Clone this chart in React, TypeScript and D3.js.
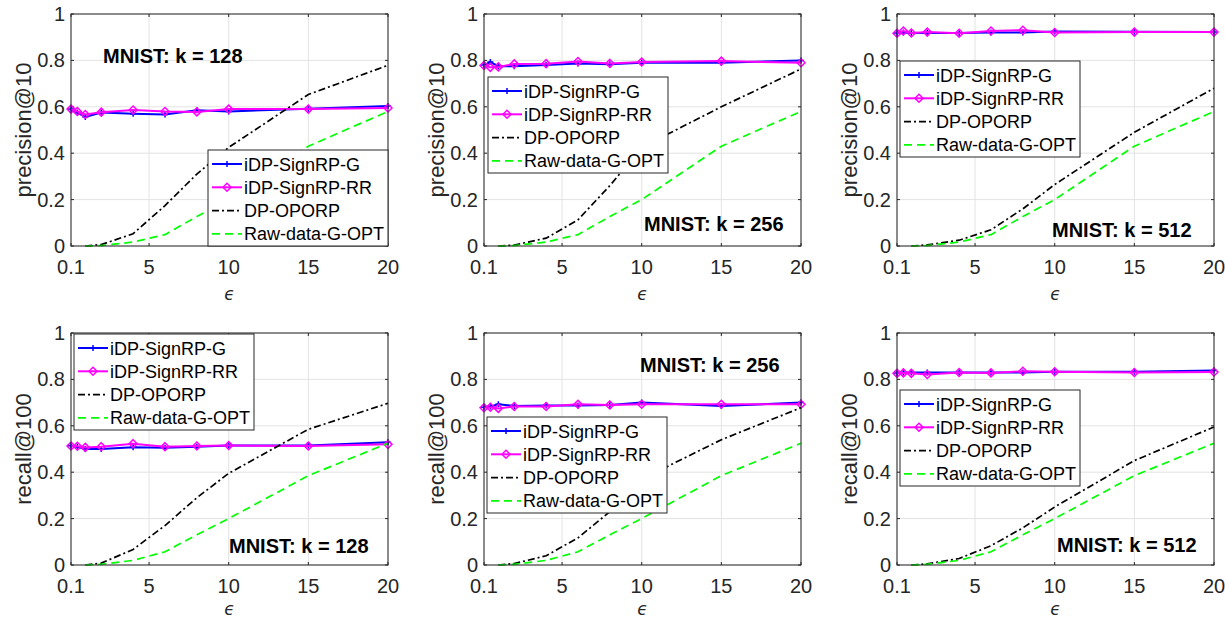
import React from "react";
import * as d3 from "d3";

// ---------- data ----------
const epsSign = [0.1, 0.5, 1, 2, 4, 6, 8, 10, 15, 20];
const epsBase = [1, 2, 4, 6, 8, 10, 15, 20];
const xTicks = [0.1, 5, 10, 15, 20];
const xTickLabels = ["0.1", "5", "10", "15", "20"];
const yTicks = [0, 0.2, 0.4, 0.6, 0.8, 1];
const yTickLabels = ["0", "0.2", "0.4", "0.6", "0.8", "1"];
const seriesNames = ["iDP-SignRP-G", "iDP-SignRP-RR", "DP-OPORP", "Raw-data-G-OPT"];

// precision@10
const precG128 = [0.59, 0.575, 0.556, 0.575, 0.57, 0.567, 0.585, 0.58, 0.592, 0.603];
const precRR128 = [0.59, 0.58, 0.567, 0.577, 0.586, 0.58, 0.578, 0.59, 0.59, 0.595];
const precDP128 = [0, 0.006, 0.053, 0.174, 0.31, 0.425, 0.653, 0.779];
const precG256 = [0.78, 0.793, 0.775, 0.775, 0.78, 0.787, 0.783, 0.79, 0.79, 0.8];
const precRR256 = [0.778, 0.77, 0.772, 0.785, 0.786, 0.795, 0.787, 0.793, 0.797, 0.79];
const precDP256 = [0, 0.004, 0.034, 0.113, 0.26, 0.425, 0.6, 0.763];
const precG512 = [0.918, 0.92, 0.918, 0.918, 0.918, 0.92, 0.92, 0.925, 0.923, 0.922];
const precRR512 = [0.917, 0.927, 0.918, 0.922, 0.917, 0.927, 0.93, 0.92, 0.922, 0.922];
const precDP512 = [0, 0.005, 0.025, 0.07, 0.16, 0.265, 0.49, 0.68];
const precRaw = [0, 0.002, 0.017, 0.049, 0.127, 0.2, 0.43, 0.58];

// recall@100
const recG128 = [0.514, 0.51, 0.5, 0.5, 0.508, 0.505, 0.51, 0.515, 0.515, 0.529];
const recRR128 = [0.513, 0.512, 0.507, 0.51, 0.523, 0.51, 0.513, 0.515, 0.513, 0.52];
const recDP128 = [0, 0.008, 0.067, 0.17, 0.29, 0.395, 0.585, 0.697];
const recG256 = [0.68, 0.683, 0.693, 0.685, 0.688, 0.687, 0.69, 0.7, 0.685, 0.7];
const recRR256 = [0.678, 0.68, 0.675, 0.683, 0.683, 0.693, 0.69, 0.693, 0.693, 0.693];
const recDP256 = [0, 0.006, 0.04, 0.117, 0.23, 0.37, 0.54, 0.678];
const recG512 = [0.828, 0.83, 0.83, 0.83, 0.83, 0.83, 0.83, 0.833, 0.833, 0.838];
const recRR512 = [0.826, 0.828, 0.826, 0.821, 0.83, 0.828, 0.835, 0.833, 0.83, 0.832];
const recDP512 = [0, 0.005, 0.028, 0.083, 0.16, 0.25, 0.45, 0.595];
const recRaw = [0, 0.003, 0.02, 0.057, 0.13, 0.2, 0.385, 0.525];

const yLabels = ["precision@10", "recall@100"];
const kLabels = ["MNIST: k = 128", "MNIST: k = 256", "MNIST: k = 512"];

// ---------- layout ----------
const FONT = "'Liberation Sans', Arial, Helvetica, sans-serif";
const colLeft = [71, 484, 897];
const rowTop = [14, 333];
const PW = 317;
const PH = 232;
const COLORS = ["#0000ff", "#ff00ff", "#000000", "#00ff00"];

type Panel = {
  col: number;
  row: number;
  g: number[];
  rr: number[];
  dp: number[];
  raw: number[];
  label: string;
  ann: [number, number];
  leg: [number, number];
};

const panels: Panel[] = [
  { col: 0, row: 0, g: precG128, rr: precRR128, dp: precDP128, raw: precRaw, label: kLabels[0], ann: [32, 49], leg: [137, 136] },
  { col: 1, row: 0, g: precG256, rr: precRR256, dp: precDP256, raw: precRaw, label: kLabels[1], ann: [160, 217], leg: [4, 63] },
  { col: 2, row: 0, g: precG512, rr: precRR512, dp: precDP512, raw: precRaw, label: kLabels[2], ann: [155, 223], leg: [3, 47] },
  { col: 0, row: 1, g: recG128, rr: recRR128, dp: recDP128, raw: recRaw, label: kLabels[0], ann: [158, 220], leg: [3, 1] },
  { col: 1, row: 1, g: recG256, rr: recRR256, dp: recDP256, raw: recRaw, label: kLabels[1], ann: [156, 39], leg: [3, 84] },
  { col: 2, row: 1, g: recG512, rr: recRR512, dp: recDP512, raw: recRaw, label: kLabels[2], ann: [160, 219], leg: [3, 57] },
];

const diamond = (cx: number, cy: number, r: number) =>
  `M${cx},${cy - r}L${cx + r},${cy}L${cx},${cy + r}L${cx - r},${cy}Z`;
const plus = (cx: number, cy: number, r: number) =>
  `M${cx - r},${cy}L${cx + r},${cy}M${cx},${cy - r}L${cx},${cy + r}`;

function Legend({ x, y }: { x: number; y: number }) {
  const w = 180;
  const h = 96;
  const rowH = 23.3;
  return (
    <g transform={`translate(${x},${y})`}>
      <rect x={0} y={0} width={w} height={h} fill="#fff" stroke="#262626" strokeWidth={1} />
      {seriesNames.map((n, i) => {
        const cy = 14 + i * rowH;
        const dash = i === 2 ? "7,3,2,3" : i === 3 ? "8,5" : undefined;
        return (
          <g key={n}>
            <line x1={4} x2={34} y1={cy} y2={cy} stroke={COLORS[i]} strokeWidth={i < 2 ? 2 : 1.7} strokeDasharray={dash} />
            {i === 0 && <path d={plus(19, cy, 3)} stroke={COLORS[0]} strokeWidth={1.5} />}
            {i === 1 && <path d={diamond(19, cy, 4)} stroke={COLORS[1]} strokeWidth={1.5} fill="none" />}
            <text x={36} y={cy + 6.5} fontSize={18} fontFamily={FONT} fill="#000">
              {n}
            </text>
          </g>
        );
      })}
    </g>
  );
}

function PanelView({ p }: { p: Panel }) {
  const left = colLeft[p.col];
  const top = rowTop[p.row];
  const x = d3.scaleLinear().domain([0.1, 20]).range([0, PW]);
  const y = d3.scaleLinear().domain([0, 1]).range([PH, 0]);
  const line = d3
    .line<[number, number]>()
    .x((d) => x(d[0]))
    .y((d) => y(d[1]));
  const pts = (xs: number[], ys: number[]) => xs.map((v, i) => [v, ys[i]] as [number, number]);
  const gPts = pts(epsSign, p.g);
  const rrPts = pts(epsSign, p.rr);
  const dpPts = pts(epsBase, p.dp);
  const rawPts = pts(epsBase, p.raw);
  const axisColor = "#262626";
  const tickLen = 3;
  const epsY = p.row === 0 ? PH + 54 : PH + 50;
  return (
    <g transform={`translate(${left},${top})`}>
      <rect x={0} y={0} width={PW} height={PH} fill="#fff" />
      {/* grid */}
      {xTicks.map((t) => (
        <line key={"gx" + t} x1={x(t)} x2={x(t)} y1={0} y2={PH} stroke="#e3e3e3" strokeWidth={1} />
      ))}
      {yTicks.map((t) => (
        <line key={"gy" + t} x1={0} x2={PW} y1={y(t)} y2={y(t)} stroke="#e3e3e3" strokeWidth={1} />
      ))}
      {/* ticks */}
      {xTicks.map((t) => (
        <g key={"tx" + t}>
          <line x1={x(t)} x2={x(t)} y1={PH} y2={PH - tickLen} stroke={axisColor} />
          <line x1={x(t)} x2={x(t)} y1={0} y2={tickLen} stroke={axisColor} />
        </g>
      ))}
      {yTicks.map((t) => (
        <g key={"ty" + t}>
          <line x1={0} x2={tickLen} y1={y(t)} y2={y(t)} stroke={axisColor} />
          <line x1={PW} x2={PW - tickLen} y1={y(t)} y2={y(t)} stroke={axisColor} />
        </g>
      ))}
      {/* series */}
      <path d={line(gPts) || ""} fill="none" stroke={COLORS[0]} strokeWidth={2} />
      {gPts.map((d, i) => (
        <path key={"gm" + i} d={plus(x(d[0]), y(d[1]), 3)} stroke={COLORS[0]} strokeWidth={1.5} />
      ))}
      <path d={line(rrPts) || ""} fill="none" stroke={COLORS[1]} strokeWidth={2} />
      {rrPts.map((d, i) => (
        <path key={"rm" + i} d={diamond(x(d[0]), y(d[1]), 4)} stroke={COLORS[1]} strokeWidth={1.5} fill="none" />
      ))}
      <path d={line(dpPts) || ""} fill="none" stroke={COLORS[2]} strokeWidth={1.7} strokeDasharray="7,3,2,3" />
      <path d={line(rawPts) || ""} fill="none" stroke={COLORS[3]} strokeWidth={1.7} strokeDasharray="8,5" />
      {/* box */}
      <rect x={0} y={0} width={PW} height={PH} fill="none" stroke={axisColor} strokeWidth={1} />
      {/* tick labels */}
      {xTicks.map((t, i) => (
        <text key={"xl" + t} x={x(t)} y={PH + 28} textAnchor="middle" fontSize={20} fontFamily={FONT} fill={axisColor}>
          {xTickLabels[i]}
        </text>
      ))}
      {yTicks.map((t, i) => (
        <text key={"yl" + t} x={-6} y={y(t) + 7} textAnchor="end" fontSize={20} fontFamily={FONT} fill={axisColor}>
          {yTickLabels[i]}
        </text>
      ))}
      {/* axis labels */}
      <text
        transform={`translate(${-40},${PH / 2}) rotate(-90)`}
        textAnchor="middle"
        fontSize={22}
        fontFamily={FONT}
        fill={axisColor}
      >
        {yLabels[p.row]}
      </text>
      <text x={PW / 2} y={epsY} textAnchor="middle" fontSize={17} fontStyle="italic" fontFamily="'DejaVu Sans', sans-serif" fill={axisColor}>
        ϵ
      </text>
      {/* annotation */}
      <text x={p.ann[0]} y={p.ann[1]} fontSize={20} fontWeight="bold" fontFamily={FONT} fill="#000">
        {p.label}
      </text>
      <Legend x={p.leg[0]} y={p.leg[1]} />
    </g>
  );
}

export default function App() {
  return (
    <svg width={1225} height={619} style={{ position: "absolute", left: 0, top: 0, background: "#fff" }}>
      <rect x={0} y={0} width={1225} height={619} fill="#fff" />
      {panels.map((p, i) => (
        <PanelView key={i} p={p} />
      ))}
    </svg>
  );
}
